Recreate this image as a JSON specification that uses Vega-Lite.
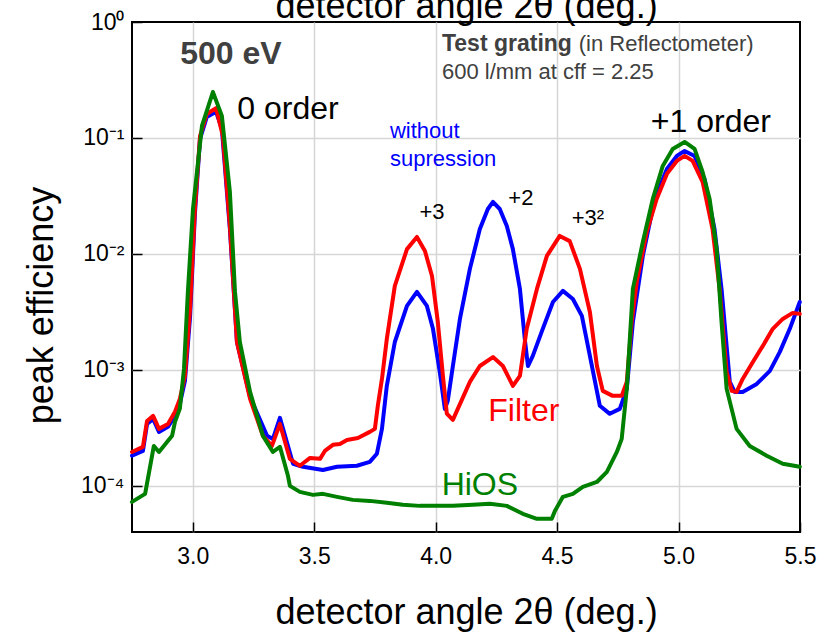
{
  "$schema": "https://vega.github.io/schema/vega-lite/v6.json",
  "width": 668,
  "height": 510,
  "autosize": {"type": "none"},
  "padding": {"left": 132, "top": 22, "right": 19, "bottom": 100},
  "background": "white",
  "config": {
    "font": "Liberation Sans",
    "view": {"stroke": "black", "strokeWidth": 2},
    "axis": {"domain": false, "labelFont": "Liberation Sans", "titleFont": "Liberation Sans", "labelColor": "black", "titleColor": "black", "titleFontWeight": "normal", "labelFlush": false, "labelOverlap": false}
  },
  "datasets": {
    "blue": [
      {"x": 2.750, "y": 0.000182}, {"x": 2.795, "y": 0.000200}, {"x": 2.812, "y": 0.000342}, {"x": 2.837, "y": 0.000378},
      {"x": 2.861, "y": 0.000292}, {"x": 2.898, "y": 0.000323}, {"x": 2.927, "y": 0.000401}, {"x": 2.947, "y": 0.000509},
      {"x": 2.968, "y": 0.000804}, {"x": 2.989, "y": 0.00286}, {"x": 3.009, "y": 0.0221}, {"x": 3.030, "y": 0.098},
      {"x": 3.058, "y": 0.152}, {"x": 3.096, "y": 0.168}, {"x": 3.120, "y": 0.120}, {"x": 3.153, "y": 0.0164},
      {"x": 3.182, "y": 0.00174}, {"x": 3.236, "y": 0.000585}, {"x": 3.306, "y": 0.000270}, {"x": 3.330, "y": 0.000254},
      {"x": 3.359, "y": 0.000386}, {"x": 3.413, "y": 0.000155}, {"x": 3.454, "y": 0.000146}, {"x": 3.536, "y": 0.000137},
      {"x": 3.594, "y": 0.000146}, {"x": 3.676, "y": 0.000149}, {"x": 3.729, "y": 0.000161}, {"x": 3.758, "y": 0.000189},
      {"x": 3.779, "y": 0.000310}, {"x": 3.799, "y": 0.000728}, {"x": 3.832, "y": 0.00174}, {"x": 3.882, "y": 0.00356},
      {"x": 3.923, "y": 0.00470}, {"x": 3.964, "y": 0.00356}, {"x": 3.989, "y": 0.00226}, {"x": 4.017, "y": 0.00096},
      {"x": 4.038, "y": 0.000461}, {"x": 4.050, "y": 0.000541}, {"x": 4.071, "y": 0.00108}, {"x": 4.100, "y": 0.00275},
      {"x": 4.141, "y": 0.00743}, {"x": 4.182, "y": 0.0164}, {"x": 4.215, "y": 0.0244}, {"x": 4.236, "y": 0.0281},
      {"x": 4.264, "y": 0.0244}, {"x": 4.293, "y": 0.0174}, {"x": 4.318, "y": 0.0110}, {"x": 4.347, "y": 0.00499},
      {"x": 4.367, "y": 0.00185}, {"x": 4.380, "y": 0.00108}, {"x": 4.400, "y": 0.00132}, {"x": 4.441, "y": 0.00226},
      {"x": 4.483, "y": 0.00385}, {"x": 4.524, "y": 0.00480}, {"x": 4.565, "y": 0.00409}, {"x": 4.602, "y": 0.00292},
      {"x": 4.635, "y": 0.00132}, {"x": 4.676, "y": 0.000490}, {"x": 4.717, "y": 0.000418}, {"x": 4.758, "y": 0.000461},
      {"x": 4.787, "y": 0.000686}, {"x": 4.812, "y": 0.00259}, {"x": 4.853, "y": 0.00961}, {"x": 4.902, "y": 0.0298},
      {"x": 4.952, "y": 0.054}, {"x": 4.993, "y": 0.070}, {"x": 5.025, "y": 0.0773}, {"x": 5.066, "y": 0.070},
      {"x": 5.107, "y": 0.0443}, {"x": 5.148, "y": 0.0164}, {"x": 5.177, "y": 0.00499}, {"x": 5.211, "y": 0.000788},
      {"x": 5.231, "y": 0.000646}, {"x": 5.264, "y": 0.000646}, {"x": 5.322, "y": 0.000757}, {"x": 5.376, "y": 0.00098},
      {"x": 5.417, "y": 0.00143}, {"x": 5.458, "y": 0.00226}, {"x": 5.499, "y": 0.00385}
    ],
    "red": [
      {"x": 2.750, "y": 0.000196}, {"x": 2.795, "y": 0.000217}, {"x": 2.812, "y": 0.000363}, {"x": 2.837, "y": 0.000401},
      {"x": 2.861, "y": 0.000310}, {"x": 2.898, "y": 0.000342}, {"x": 2.927, "y": 0.000435}, {"x": 2.947, "y": 0.000562},
      {"x": 2.968, "y": 0.000887}, {"x": 2.989, "y": 0.00336}, {"x": 3.009, "y": 0.0244}, {"x": 3.030, "y": 0.104},
      {"x": 3.058, "y": 0.161}, {"x": 3.096, "y": 0.181}, {"x": 3.124, "y": 0.104}, {"x": 3.153, "y": 0.0174},
      {"x": 3.182, "y": 0.00174}, {"x": 3.236, "y": 0.000562}, {"x": 3.289, "y": 0.000270}, {"x": 3.326, "y": 0.000221},
      {"x": 3.359, "y": 0.000342}, {"x": 3.400, "y": 0.000171}, {"x": 3.441, "y": 0.000149}, {"x": 3.483, "y": 0.000174},
      {"x": 3.524, "y": 0.000171}, {"x": 3.544, "y": 0.000200}, {"x": 3.577, "y": 0.000226}, {"x": 3.606, "y": 0.000230},
      {"x": 3.635, "y": 0.000249}, {"x": 3.680, "y": 0.000259}, {"x": 3.729, "y": 0.000292}, {"x": 3.750, "y": 0.000310},
      {"x": 3.762, "y": 0.000490}, {"x": 3.779, "y": 0.000836}, {"x": 3.799, "y": 0.00185}, {"x": 3.832, "y": 0.00530},
      {"x": 3.882, "y": 0.0110}, {"x": 3.923, "y": 0.0140}, {"x": 3.956, "y": 0.0106}, {"x": 3.985, "y": 0.00646},
      {"x": 4.009, "y": 0.00259}, {"x": 4.030, "y": 0.000887}, {"x": 4.046, "y": 0.000420}, {"x": 4.071, "y": 0.000371},
      {"x": 4.141, "y": 0.000788}, {"x": 4.182, "y": 0.00108}, {"x": 4.236, "y": 0.00129}, {"x": 4.277, "y": 0.00108},
      {"x": 4.318, "y": 0.000728}, {"x": 4.347, "y": 0.000887}, {"x": 4.375, "y": 0.00226}, {"x": 4.417, "y": 0.00499},
      {"x": 4.458, "y": 0.00961}, {"x": 4.511, "y": 0.0143}, {"x": 4.552, "y": 0.0129}, {"x": 4.594, "y": 0.00743},
      {"x": 4.635, "y": 0.00316}, {"x": 4.664, "y": 0.00108}, {"x": 4.688, "y": 0.000659}, {"x": 4.729, "y": 0.000597},
      {"x": 4.766, "y": 0.000597}, {"x": 4.787, "y": 0.000788}, {"x": 4.807, "y": 0.00259}, {"x": 4.828, "y": 0.00574},
      {"x": 4.869, "y": 0.0155}, {"x": 4.910, "y": 0.0298}, {"x": 4.952, "y": 0.049}, {"x": 4.993, "y": 0.0634},
      {"x": 5.025, "y": 0.070}, {"x": 5.058, "y": 0.0634}, {"x": 5.099, "y": 0.0418}, {"x": 5.140, "y": 0.0164},
      {"x": 5.169, "y": 0.00499}, {"x": 5.198, "y": 0.00096}, {"x": 5.219, "y": 0.000659}, {"x": 5.239, "y": 0.000646},
      {"x": 5.264, "y": 0.000836}, {"x": 5.306, "y": 0.00117}, {"x": 5.347, "y": 0.00161}, {"x": 5.388, "y": 0.00226},
      {"x": 5.429, "y": 0.00275}, {"x": 5.470, "y": 0.00310}, {"x": 5.499, "y": 0.00304}
    ],
    "green": [
      {"x": 2.750, "y": 0.0000728}, {"x": 2.804, "y": 0.0000853}, {"x": 2.840, "y": 0.000221}, {"x": 2.861, "y": 0.000196},
      {"x": 2.915, "y": 0.000270}, {"x": 2.927, "y": 0.000356}, {"x": 2.947, "y": 0.000463}, {"x": 2.964, "y": 0.00102},
      {"x": 2.980, "y": 0.00470}, {"x": 3.001, "y": 0.0244}, {"x": 3.038, "y": 0.127}, {"x": 3.083, "y": 0.249},
      {"x": 3.120, "y": 0.155}, {"x": 3.153, "y": 0.0342}, {"x": 3.174, "y": 0.00470}, {"x": 3.194, "y": 0.00174},
      {"x": 3.236, "y": 0.000646}, {"x": 3.289, "y": 0.000270}, {"x": 3.330, "y": 0.000196}, {"x": 3.359, "y": 0.000217},
      {"x": 3.392, "y": 0.000122}, {"x": 3.400, "y": 0.0001}, {"x": 3.441, "y": 0.0000887}, {"x": 3.495, "y": 0.0000836},
      {"x": 3.536, "y": 0.0000853}, {"x": 3.594, "y": 0.0000804}, {"x": 3.659, "y": 0.0000757}, {"x": 3.729, "y": 0.0000742},
      {"x": 3.799, "y": 0.0000714}, {"x": 3.865, "y": 0.0000686}, {"x": 3.935, "y": 0.0000672}, {"x": 4.005, "y": 0.0000672},
      {"x": 4.071, "y": 0.0000672}, {"x": 4.153, "y": 0.0000686}, {"x": 4.223, "y": 0.0000700}, {"x": 4.293, "y": 0.0000672},
      {"x": 4.359, "y": 0.0000574}, {"x": 4.417, "y": 0.0000520}, {"x": 4.478, "y": 0.0000520}, {"x": 4.491, "y": 0.0000608},
      {"x": 4.524, "y": 0.0000804}, {"x": 4.565, "y": 0.0000853}, {"x": 4.606, "y": 0.0000980}, {"x": 4.664, "y": 0.000108},
      {"x": 4.705, "y": 0.000132}, {"x": 4.746, "y": 0.000196}, {"x": 4.766, "y": 0.000254}, {"x": 4.787, "y": 0.000686},
      {"x": 4.812, "y": 0.00499}, {"x": 4.853, "y": 0.0127}, {"x": 4.894, "y": 0.0298}, {"x": 4.935, "y": 0.0574},
      {"x": 4.976, "y": 0.0804}, {"x": 5.025, "y": 0.0924}, {"x": 5.066, "y": 0.0804}, {"x": 5.099, "y": 0.0509},
      {"x": 5.128, "y": 0.0298}, {"x": 5.157, "y": 0.0110}, {"x": 5.177, "y": 0.00259}, {"x": 5.198, "y": 0.000686},
      {"x": 5.239, "y": 0.000310}, {"x": 5.293, "y": 0.000221}, {"x": 5.363, "y": 0.000182}, {"x": 5.429, "y": 0.000155},
      {"x": 5.499, "y": 0.000146}
    ],
    "notes": [
      {"label": "500 eV", "x": 3.157, "y": 0.53},
      {"label": "Test grating", "x": 4.026, "y": 0.646},
      {"label": "(in Reflectometer)", "x": 4.589, "y": 0.646},
      {"label": "600 l/mm at cff = 2.25", "x": 4.026, "y": 0.371},
      {"label": "0 order", "x": 3.392, "y": 0.178},
      {"label": "+1 order", "x": 5.133, "y": 0.137},
      {"label": "without", "x": 3.812, "y": 0.115},
      {"label": "supression", "x": 3.812, "y": 0.0659},
      {"label": "+3", "x": 3.985, "y": 0.0230},
      {"label": "+2", "x": 4.351, "y": 0.0304},
      {"label": "+3²", "x": 4.627, "y": 0.0204},
      {"label": "Filter", "x": 4.363, "y": 0.000443},
      {"label": "HiOS", "x": 4.182, "y": 0.000102}
    ]
  },
  "resolve": {"axis": {"x": "independent", "y": "independent"}},
  "layer": [
    {
      "data": {"name": "blue"},
      "mark": {"type": "line", "color": "#0000ff", "strokeWidth": 4, "strokeJoin": "round", "strokeCap": "round"},
      "encoding": {
        "x": {"field": "x", "type": "quantitative", "scale": {"domain": [2.75, 5.5], "nice": false, "zero": false},
          "axis": {"orient": "bottom", "values": [3, 3.5, 4, 4.5, 5, 5.5], "format": ".1f", "grid": false, "ticks": true, "tickSize": -10, "tickWidth": 1.5, "tickColor": "black", "labelFontSize": 23, "labelPadding": 23, "zindex": 1,
            "title": "detector angle 2θ (deg.)", "titleFontSize": 36, "titleBaseline": "alphabetic", "titleX": 334, "titleY": 91, "titleAlign": "center"}},
        "y": {"field": "y", "type": "quantitative", "scale": {"type": "log", "domain": [0.00004, 1], "nice": false, "zero": false},
          "axis": {"orient": "left", "values": [1, 0.1, 0.01, 0.001, 0.0001], "grid": false, "ticks": true, "tickSize": -10, "tickWidth": 1.5, "tickColor": "black", "labelFontSize": 23, "labelPadding": 18, "zindex": 1,
            "labelExpr": "'10' + (abs(log(datum.value)/LN10) < 0.5 ? '⁰' : abs(log(datum.value)/LN10 + 1) < 0.5 ? '⁻¹' : abs(log(datum.value)/LN10 + 2) < 0.5 ? '⁻²' : abs(log(datum.value)/LN10 + 3) < 0.5 ? '⁻³' : '⁻⁴')",
            "title": "peak efficiency", "titleFontSize": 36, "titleBaseline": "alphabetic", "titleAngle": -90, "titleX": -80, "titleY": 283, "titleAlign": "center"}}
      }
    },
    {
      "data": {"name": "red"},
      "mark": {"type": "line", "color": "#ff0000", "strokeWidth": 4, "strokeJoin": "round", "strokeCap": "round"},
      "encoding": {
        "x": {"field": "x", "type": "quantitative", "scale": {"domain": [2.75, 5.5], "nice": false, "zero": false}, "axis": null},
        "y": {"field": "y", "type": "quantitative", "scale": {"type": "log", "domain": [0.00004, 1], "nice": false, "zero": false}, "axis": null}
      }
    },
    {
      "data": {"name": "green"},
      "mark": {"type": "line", "color": "#008000", "strokeWidth": 4, "strokeJoin": "round", "strokeCap": "round"},
      "encoding": {
        "x": {"field": "x", "type": "quantitative", "scale": {"domain": [2.75, 5.5], "nice": false, "zero": false}, "axis": null},
        "y": {"field": "y", "type": "quantitative", "scale": {"type": "log", "domain": [0.00004, 1], "nice": false, "zero": false}, "axis": null}
      }
    },
    {
      "data": {"name": "notes"},
      "transform": [{"filter": "datum.label == '500 eV'"}],
      "mark": {"type": "text", "font": "Liberation Sans", "fontSize": 32, "fontWeight": "bold", "color": "#404040", "align": "center", "baseline": "middle"},
      "encoding": {
        "x": {"field": "x", "type": "quantitative", "scale": {"domain": [2.75, 5.5], "nice": false, "zero": false},
          "axis": {"orient": "top", "values": [3, 3.5, 4, 4.5, 5], "grid": true, "gridColor": "#d6d6d6", "gridWidth": 1.5, "labels": false, "ticks": false, "title": "detector angle 2θ (deg.)", "titleFontSize": 36, "titleBaseline": "alphabetic", "titleX": 334, "titleY": -5, "titleAlign": "center"}},
        "y": {"field": "y", "type": "quantitative", "scale": {"type": "log", "domain": [0.00004, 1], "nice": false, "zero": false},
          "axis": {"orient": "right", "values": [0.1, 0.01, 0.001, 0.0001], "grid": true, "gridColor": "#d6d6d6", "gridWidth": 1.5, "labels": false, "ticks": false, "title": null}},
        "text": {"field": "label"}
      }
    },
    {
      "data": {"name": "notes"},
      "transform": [{"filter": "datum.label == 'Test grating'"}],
      "mark": {"type": "text", "font": "Liberation Sans", "fontSize": 23, "fontWeight": "bold", "color": "#404040", "align": "left", "baseline": "middle"},
      "encoding": {
        "x": {"field": "x", "type": "quantitative", "axis": null},
        "y": {"field": "y", "type": "quantitative", "axis": null},
        "text": {"field": "label"}
      }
    },
    {
      "data": {"name": "notes"},
      "transform": [{"filter": "datum.label == '(in Reflectometer)' || datum.label == '600 l/mm at cff = 2.25'"}],
      "mark": {"type": "text", "font": "Liberation Sans", "fontSize": 22, "color": "#404040", "align": "left", "baseline": "middle"},
      "encoding": {
        "x": {"field": "x", "type": "quantitative", "axis": null},
        "y": {"field": "y", "type": "quantitative", "axis": null},
        "text": {"field": "label"}
      }
    },
    {
      "data": {"name": "notes"},
      "transform": [{"filter": "datum.label == '0 order' || datum.label == '+1 order'"}],
      "mark": {"type": "text", "font": "Liberation Sans", "fontSize": 32, "color": "black", "align": "center", "baseline": "middle"},
      "encoding": {
        "x": {"field": "x", "type": "quantitative", "axis": null},
        "y": {"field": "y", "type": "quantitative", "axis": null},
        "text": {"field": "label"}
      }
    },
    {
      "data": {"name": "notes"},
      "transform": [{"filter": "datum.label == 'without' || datum.label == 'supression'"}],
      "mark": {"type": "text", "font": "Liberation Sans", "fontSize": 22, "color": "#0000ff", "align": "left", "baseline": "middle"},
      "encoding": {
        "x": {"field": "x", "type": "quantitative", "axis": null},
        "y": {"field": "y", "type": "quantitative", "axis": null},
        "text": {"field": "label"}
      }
    },
    {
      "data": {"name": "notes"},
      "transform": [{"filter": "datum.label == '+3' || datum.label == '+2' || datum.label == '+3²'"}],
      "mark": {"type": "text", "font": "Liberation Sans", "fontSize": 22, "color": "black", "align": "center", "baseline": "middle"},
      "encoding": {
        "x": {"field": "x", "type": "quantitative", "axis": null},
        "y": {"field": "y", "type": "quantitative", "axis": null},
        "text": {"field": "label"}
      }
    },
    {
      "data": {"name": "notes"},
      "transform": [{"filter": "datum.label == 'Filter'"}],
      "mark": {"type": "text", "font": "Liberation Sans", "fontSize": 32, "color": "#ff0000", "align": "center", "baseline": "middle"},
      "encoding": {
        "x": {"field": "x", "type": "quantitative", "axis": null},
        "y": {"field": "y", "type": "quantitative", "axis": null},
        "text": {"field": "label"}
      }
    },
    {
      "data": {"name": "notes"},
      "transform": [{"filter": "datum.label == 'HiOS'"}],
      "mark": {"type": "text", "font": "Liberation Sans", "fontSize": 32, "color": "#008000", "align": "center", "baseline": "middle"},
      "encoding": {
        "x": {"field": "x", "type": "quantitative", "axis": null},
        "y": {"field": "y", "type": "quantitative", "axis": null},
        "text": {"field": "label"}
      }
    }
  ]
}
